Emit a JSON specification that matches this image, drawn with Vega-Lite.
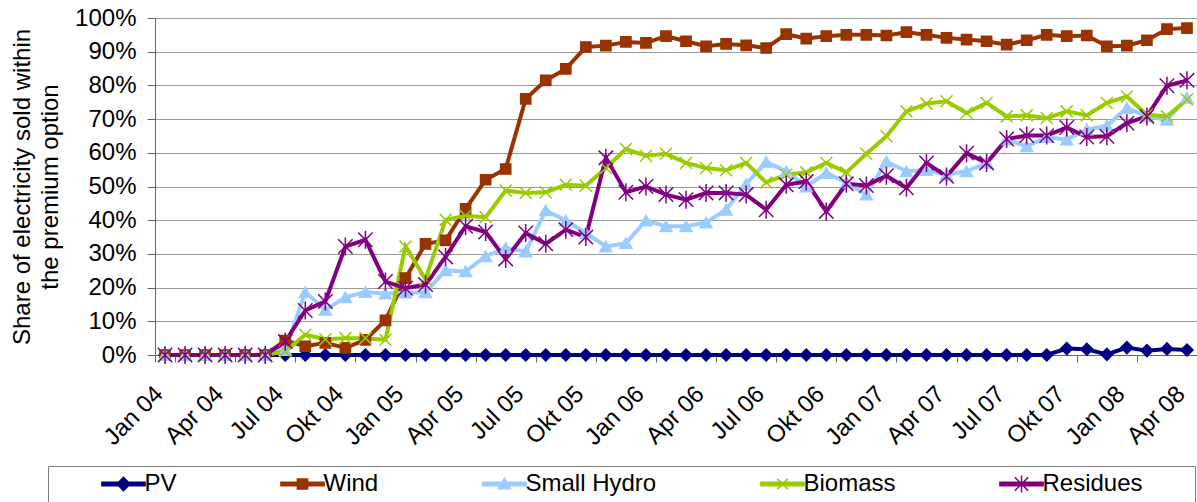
{
 "$schema": "https://vega.github.io/schema/vega-lite/v6.json",
 "width": 1042,
 "height": 337,
 "autosize": {"type": "none"},
 "padding": {"left": 155, "top": 18, "right": 0, "bottom": 147},
 "background": "white",
 "config": {"view": {"stroke": null}, "font": "Liberation Sans"},
 "data": {"values": [
  {"m": "Jan 04", "PV": 0, "Wind": 0, "Small Hydro": 0, "Biomass": 0, "Residues": 0},
  {"m": "Feb 04", "PV": 0, "Wind": 0, "Small Hydro": 0, "Biomass": 0, "Residues": 0},
  {"m": "Mrz 04", "PV": 0, "Wind": 0, "Small Hydro": 0, "Biomass": 0, "Residues": 0},
  {"m": "Apr 04", "PV": 0, "Wind": 0, "Small Hydro": 0, "Biomass": 0, "Residues": 0},
  {"m": "Mai 04", "PV": 0, "Wind": 0, "Small Hydro": 0, "Biomass": 0, "Residues": 0},
  {"m": "Jun 04", "PV": 0, "Wind": 0, "Small Hydro": 0, "Biomass": 0, "Residues": 0},
  {"m": "Jul 04", "PV": 0, "Wind": 4.3, "Small Hydro": 1.5, "Biomass": 1.1, "Residues": 4.0},
  {"m": "Aug 04", "PV": 0, "Wind": 2.6, "Small Hydro": 18.6, "Biomass": 6.0, "Residues": 13.2},
  {"m": "Sep 04", "PV": 0, "Wind": 3.6, "Small Hydro": 13.4, "Biomass": 4.7, "Residues": 15.9},
  {"m": "Okt 04", "PV": 0, "Wind": 2.1, "Small Hydro": 17.1, "Biomass": 5.0, "Residues": 32.2},
  {"m": "Nov 04", "PV": 0, "Wind": 4.5, "Small Hydro": 18.7, "Biomass": 5.0, "Residues": 34.2},
  {"m": "Dez 04", "PV": 0, "Wind": 10.3, "Small Hydro": 18.2, "Biomass": 4.5, "Residues": 21.8},
  {"m": "Jan 05", "PV": 0, "Wind": 22.8, "Small Hydro": 18.5, "Biomass": 32.2, "Residues": 19.8},
  {"m": "Feb 05", "PV": 0, "Wind": 33.0, "Small Hydro": 18.6, "Biomass": 22.5, "Residues": 20.9},
  {"m": "Mrz 05", "PV": 0, "Wind": 34.0, "Small Hydro": 25.1, "Biomass": 40.1, "Residues": 29.1},
  {"m": "Apr 05", "PV": 0, "Wind": 43.4, "Small Hydro": 24.8, "Biomass": 41.3, "Residues": 38.2},
  {"m": "Mai 05", "PV": 0, "Wind": 52.0, "Small Hydro": 29.3, "Biomass": 40.9, "Residues": 36.5},
  {"m": "Jun 05", "PV": 0, "Wind": 55.2, "Small Hydro": 31.7, "Biomass": 48.8, "Residues": 28.5},
  {"m": "Jul 05", "PV": 0, "Wind": 76.0, "Small Hydro": 30.7, "Biomass": 48.1, "Residues": 36.2},
  {"m": "Aug 05", "PV": 0, "Wind": 81.5, "Small Hydro": 42.9, "Biomass": 48.3, "Residues": 33.0},
  {"m": "Sep 05", "PV": 0, "Wind": 84.9, "Small Hydro": 39.9, "Biomass": 50.5, "Residues": 37.2},
  {"m": "Okt 05", "PV": 0, "Wind": 91.4, "Small Hydro": 36.2, "Biomass": 50.2, "Residues": 35.0},
  {"m": "Nov 05", "PV": 0, "Wind": 91.8, "Small Hydro": 32.2, "Biomass": 55.5, "Residues": 58.5},
  {"m": "Dez 05", "PV": 0, "Wind": 92.9, "Small Hydro": 33.2, "Biomass": 61.1, "Residues": 48.3},
  {"m": "Jan 06", "PV": 0, "Wind": 92.6, "Small Hydro": 39.9, "Biomass": 59.1, "Residues": 50.0},
  {"m": "Feb 06", "PV": 0, "Wind": 94.6, "Small Hydro": 38.2, "Biomass": 59.7, "Residues": 47.6},
  {"m": "Mrz 06", "PV": 0, "Wind": 93.1, "Small Hydro": 38.2, "Biomass": 57.0, "Residues": 46.1},
  {"m": "Apr 06", "PV": 0, "Wind": 91.6, "Small Hydro": 39.3, "Biomass": 55.5, "Residues": 48.1},
  {"m": "Mai 06", "PV": 0, "Wind": 92.3, "Small Hydro": 43.1, "Biomass": 54.8, "Residues": 48.1},
  {"m": "Jun 06", "PV": 0, "Wind": 91.9, "Small Hydro": 50.7, "Biomass": 57.0, "Residues": 47.6},
  {"m": "Jul 06", "PV": 0, "Wind": 91.1, "Small Hydro": 57.3, "Biomass": 51.2, "Residues": 43.1},
  {"m": "Aug 06", "PV": 0, "Wind": 95.2, "Small Hydro": 54.5, "Biomass": 53.5, "Residues": 50.5},
  {"m": "Sep 06", "PV": 0, "Wind": 93.9, "Small Hydro": 50.0, "Biomass": 54.2, "Residues": 51.5},
  {"m": "Okt 06", "PV": 0, "Wind": 94.6, "Small Hydro": 54.0, "Biomass": 57.0, "Residues": 42.6},
  {"m": "Nov 06", "PV": 0, "Wind": 95.0, "Small Hydro": 51.2, "Biomass": 54.2, "Residues": 50.8},
  {"m": "Dez 06", "PV": 0, "Wind": 95.0, "Small Hydro": 47.6, "Biomass": 59.7, "Residues": 50.3},
  {"m": "Jan 07", "PV": 0, "Wind": 94.8, "Small Hydro": 57.4, "Biomass": 64.9, "Residues": 53.2},
  {"m": "Feb 07", "PV": 0, "Wind": 95.8, "Small Hydro": 54.5, "Biomass": 72.3, "Residues": 49.6},
  {"m": "Mrz 07", "PV": 0, "Wind": 95.0, "Small Hydro": 54.9, "Biomass": 74.6, "Residues": 57.0},
  {"m": "Apr 07", "PV": 0, "Wind": 94.1, "Small Hydro": 53.5, "Biomass": 75.3, "Residues": 53.0},
  {"m": "Mai 07", "PV": 0, "Wind": 93.6, "Small Hydro": 54.5, "Biomass": 71.8, "Residues": 59.9},
  {"m": "Jun 07", "PV": 0, "Wind": 93.1, "Small Hydro": 57.0, "Biomass": 74.8, "Residues": 57.0},
  {"m": "Jul 07", "PV": 0, "Wind": 92.1, "Small Hydro": 63.9, "Biomass": 70.8, "Residues": 64.1},
  {"m": "Aug 07", "PV": 0, "Wind": 93.4, "Small Hydro": 61.9, "Biomass": 71.1, "Residues": 65.1},
  {"m": "Sep 07", "PV": 0, "Wind": 95.0, "Small Hydro": 64.7, "Biomass": 70.3, "Residues": 65.1},
  {"m": "Okt 07", "PV": 1.9, "Wind": 94.6, "Small Hydro": 63.9, "Biomass": 72.3, "Residues": 67.5},
  {"m": "Nov 07", "PV": 1.7, "Wind": 94.8, "Small Hydro": 66.9, "Biomass": 71.1, "Residues": 64.7},
  {"m": "Dez 07", "PV": 0.2, "Wind": 91.6, "Small Hydro": 68.0, "Biomass": 74.8, "Residues": 64.9},
  {"m": "Jan 08", "PV": 2.2, "Wind": 91.8, "Small Hydro": 73.3, "Biomass": 76.7, "Residues": 68.8},
  {"m": "Feb 08", "PV": 1.3, "Wind": 93.4, "Small Hydro": 70.8, "Biomass": 71.3, "Residues": 70.8},
  {"m": "Mrz 08", "PV": 1.8, "Wind": 96.7, "Small Hydro": 69.8, "Biomass": 70.8, "Residues": 79.9},
  {"m": "Apr 08", "PV": 1.5, "Wind": 97.0, "Small Hydro": 76.3, "Biomass": 75.8, "Residues": 81.5}
 ]},
 "transform": [{"fold": ["PV", "Wind", "Small Hydro", "Biomass", "Residues"], "as": ["series", "value"]}],
 "encoding": {
  "x": {
   "field": "m", "type": "nominal", "sort": null,
   "scale": {"type": "band", "paddingInner": 0, "paddingOuter": 0},
   "axis": {
    "title": null,
    "values": ["Jan 04", "Apr 04", "Jul 04", "Okt 04", "Jan 05", "Apr 05", "Jul 05", "Okt 05", "Jan 06", "Apr 06", "Jul 06", "Okt 06", "Jan 07", "Apr 07", "Jul 07", "Okt 07", "Jan 08", "Apr 08"],
    "labelAngle": -45, "labelAlign": "right", "labelBaseline": "middle",
    "labelFontSize": 24, "labelFont": "Liberation Sans", "labelColor": "black",
    "labelPadding": 28, "labelOffset": -6, "labelOverlap": false, "labelBound": false, "labelFlush": false,
    "tickSize": 7, "tickColor": "#666666", "domainColor": "#666666", "tickBand": "extent", "grid": false
   }
  },
  "y": {
   "field": "value", "type": "quantitative",
   "scale": {"domain": [0, 100], "nice": false},
   "axis": {
    "title": ["Share of electricity sold within", "the premium option"],
    "values": [0, 10, 20, 30, 40, 50, 60, 70, 80, 90, 100],
    "labelExpr": "datum.value + '%'",
    "labelFontSize": 24, "labelFont": "Liberation Sans", "labelColor": "black", "labelPadding": 11,
    "tickSize": 8, "tickColor": "#666666", "domainColor": "#666666",
    "grid": true, "gridColor": "#999999", "gridWidth": 1,
    "titleFontSize": 24, "titleFont": "Liberation Sans", "titleFontWeight": "normal", "titleColor": "black",
    "titleLineHeight": 28, "titlePadding": 12
   }
  }
 },
 "layer": [
  {
   "mark": {"type": "line", "strokeWidth": 4},
   "encoding": {
    "color": {
     "field": "series", "type": "nominal",
     "scale": {"domain": ["PV", "Wind", "Small Hydro", "Biomass", "Residues"], "range": ["#000080", "#993300", "#99CCFF", "#99CC00", "#800080"]},
     "legend": {
      "orient": "none", "legendX": -107, "legendY": 448, "direction": "horizontal", "columns": 5,
      "title": " ", "titleOrient": "right", "titlePadding": 46,
      "padding": 6, "strokeColor": "#808080", "fillColor": "white",
      "labelFontSize": 24, "labelFont": "Liberation Sans", "labelColor": "black",
      "symbolSize": 144, "symbolStrokeWidth": 1.5, "symbolOffset": 57.5, "labelOffset": 9, "columnPadding": 56,
      "encode": {"symbols": {"update": {
       "shape": {"signal": "datum.value === 'PV' ? 'M-3.6,-0.3H3.6V0.3H-3.6Z M0,-1.1L1.1,0L0,1.1L-1.1,0Z' : datum.value === 'Wind' ? 'M-3.6,-0.3H3.6V0.3H-3.6Z M-0.85,-0.85H0.85V0.85H-0.85Z' : datum.value === 'Small Hydro' ? 'M-3.6,-0.3H3.6V0.3H-3.6Z M0,-1L1,0.8L-1,0.8Z' : datum.value === 'Biomass' ? 'M-3.6,-0.3H3.6V0.3H-3.6Z M-0.9,-0.9L0.9,0.9M-0.9,0.9L0.9,-0.9' : 'M-3.6,-0.3H3.6V0.3H-3.6Z M-1.1,-1.1L1.1,1.1M-1.1,1.1L1.1,-1.1M0,-1.4L0,1.4'"},
       "fill": {"signal": "scale('color', datum.value)"},
       "stroke": {"signal": "scale('color', datum.value)"},
       "strokeWidth": {"value": 1.5},
       "opacity": {"value": 1}
      }}}
     }
    }
   }
  },
  {
   "transform": [{"filter": "datum.series === 'PV'"}],
   "mark": {"type": "point", "shape": "diamond", "filled": true, "size": 144, "color": "#000080", "stroke": "#000080", "strokeWidth": 1.5, "opacity": 1}
  },
  {
   "transform": [{"filter": "datum.series === 'Wind'"}],
   "mark": {"type": "point", "shape": "M-0.85,-0.85H0.85V0.85H-0.85Z", "filled": true, "size": 144, "color": "#993300", "stroke": "#993300", "strokeWidth": 1.5, "opacity": 1}
  },
  {
   "transform": [{"filter": "datum.series === 'Small Hydro'"}],
   "mark": {"type": "point", "shape": "triangle-up", "filled": true, "size": 144, "color": "#99CCFF", "stroke": "#99CCFF", "strokeWidth": 1.5, "opacity": 1}
  },
  {
   "transform": [{"filter": "datum.series === 'Biomass'"}],
   "mark": {"type": "point", "shape": "M-1,-1L1,1M-1,1L1,-1", "filled": false, "size": 144, "color": "#99CC00", "stroke": "#99CC00", "strokeWidth": 1.5, "opacity": 1}
  },
  {
   "transform": [{"filter": "datum.series === 'Residues'"}],
   "mark": {"type": "point", "shape": "M-1.2,-1.2L1.2,1.2M-1.2,1.2L1.2,-1.2M0,-1.5L0,1.5", "filled": false, "size": 144, "color": "#800080", "stroke": "#800080", "strokeWidth": 1.5, "opacity": 1}
  }
 ]
}
